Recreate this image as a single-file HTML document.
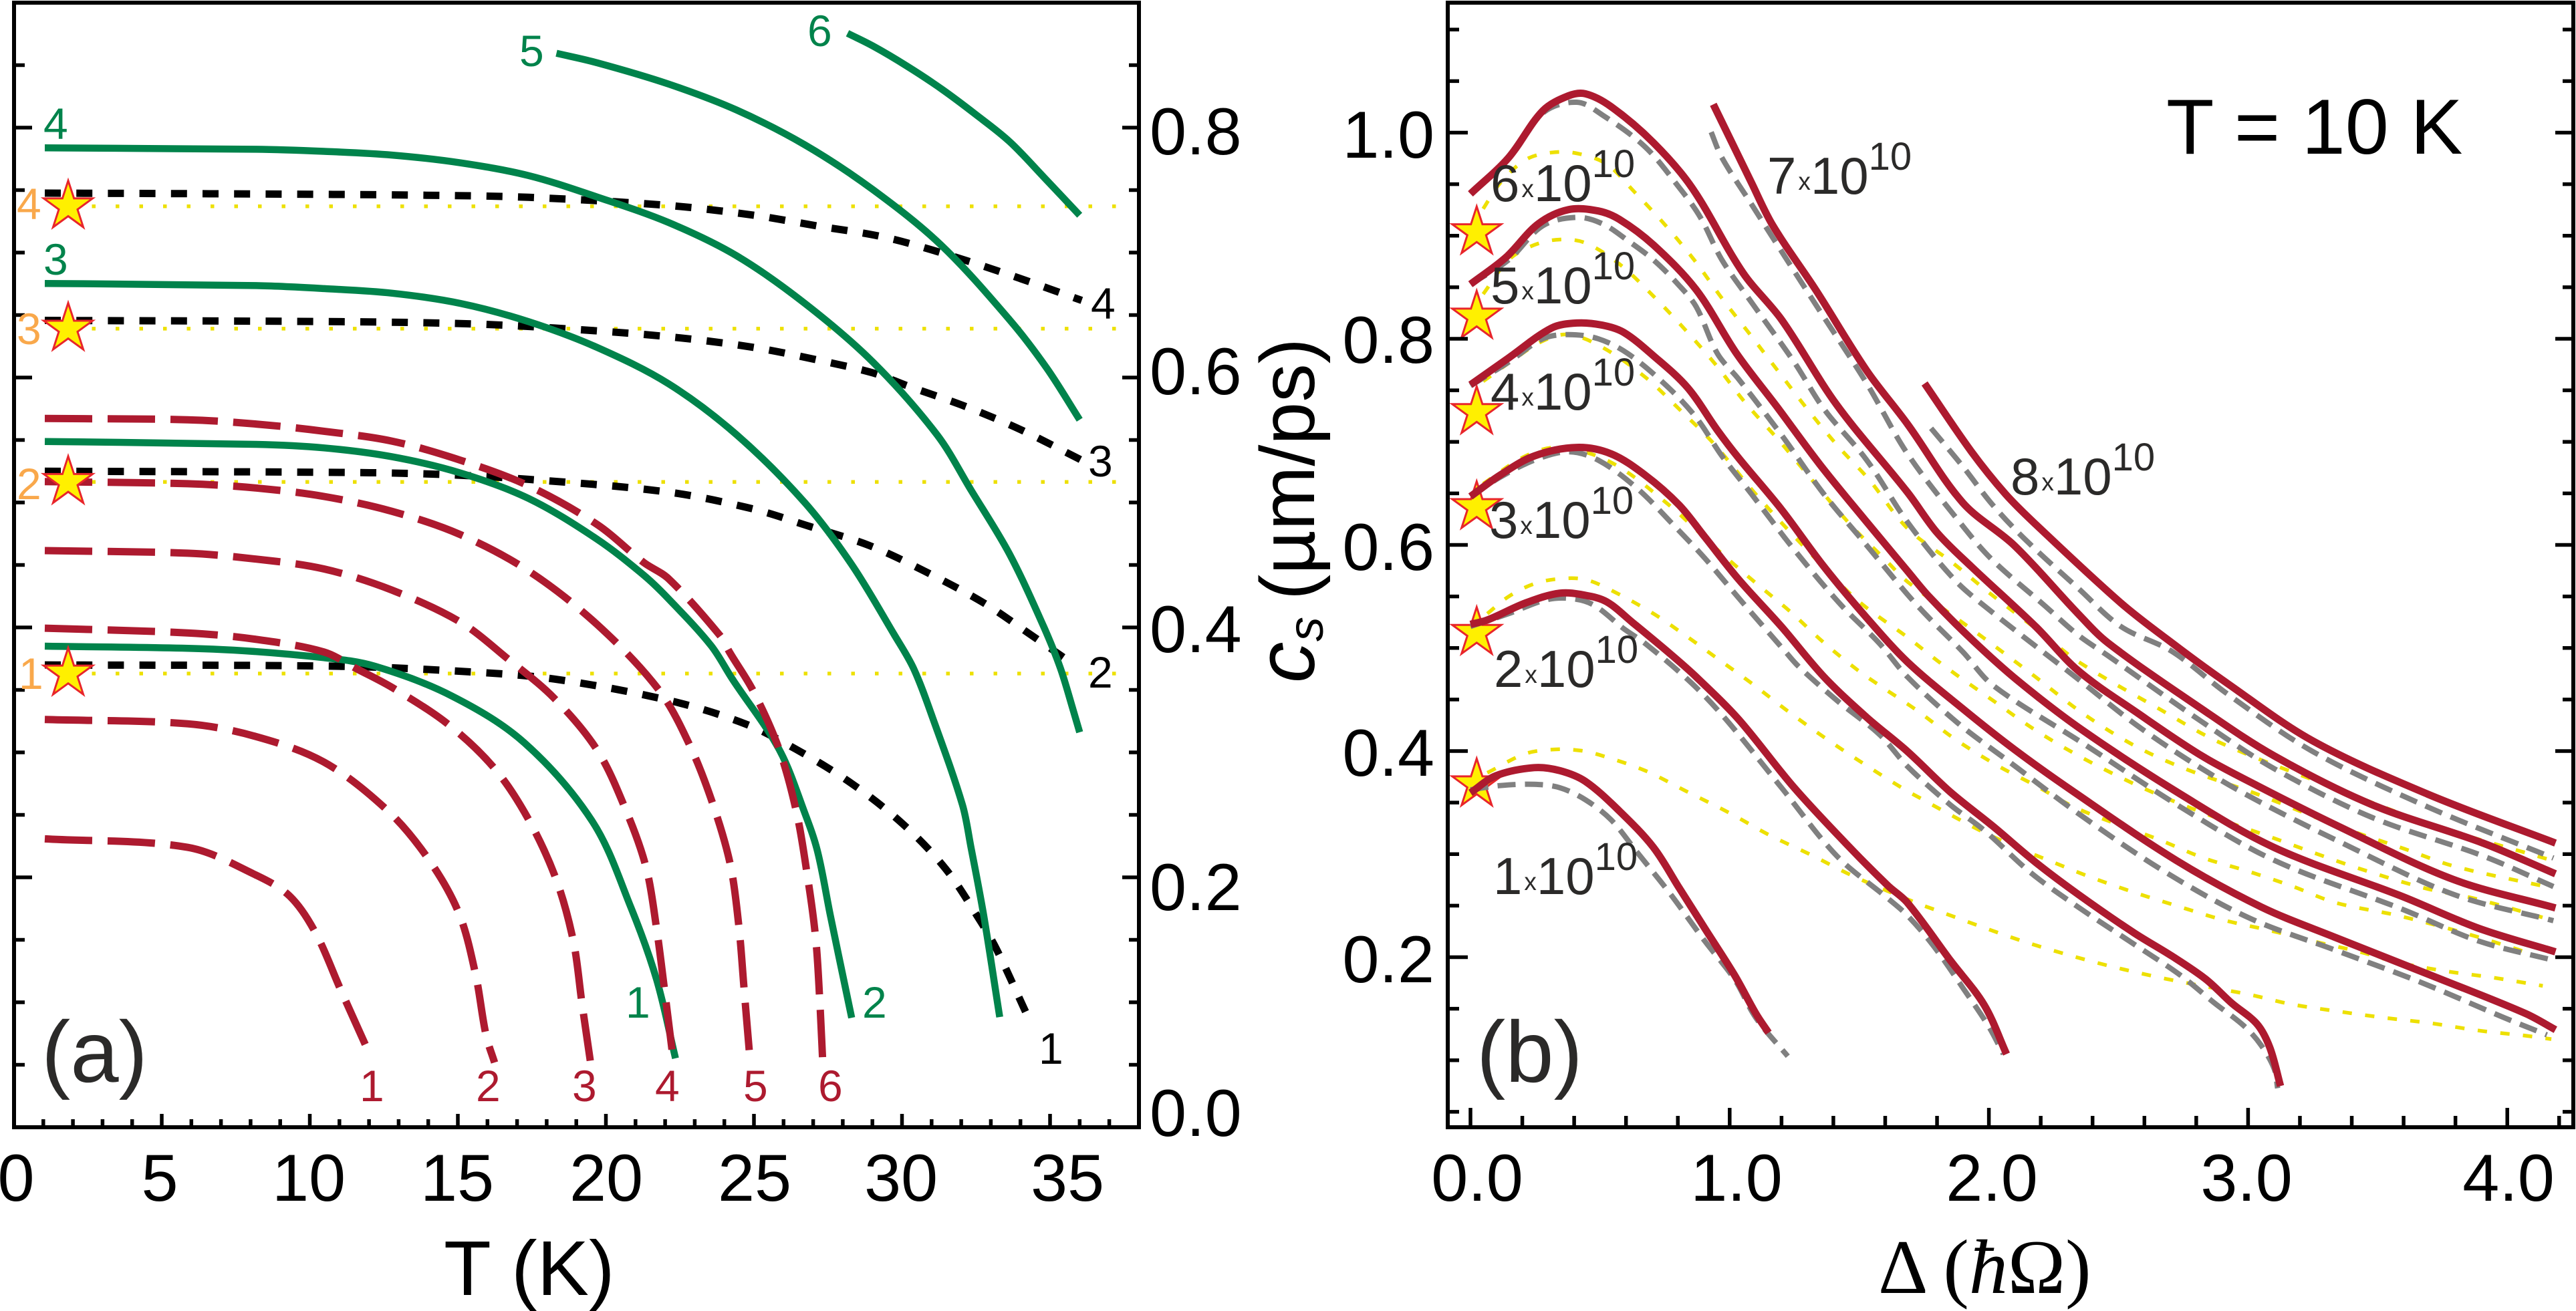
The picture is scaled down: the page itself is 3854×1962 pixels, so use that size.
<!DOCTYPE html>
<html lang="en">
<head>
<meta charset="utf-8">
<title>Sound velocity chart</title>
<style>
html,body{margin:0;padding:0;background:#fff;}
svg{display:block;}
text{font-family:"Liberation Sans",sans-serif;}
.serif{font-family:"Liberation Serif",serif;}
.tk{font-size:99px;fill:#000;}
.lb{font-size:66px;}
.cnt{fill:#2b2a29;font-size:78px;}
</style>
</head>
<body>
<svg xmlns="http://www.w3.org/2000/svg" width="3854" height="1962" viewBox="0 0 3854 1962">
<rect width="3854" height="1962" fill="#fff"/>
<g id="marksA"></g>
<g id="marksB"></g>
<g id="axesG"></g>

<g class="tk" text-anchor="middle">
<text class="tk" x="24" y="1797">0</text>
<text class="tk" x="239" y="1797">5</text>
<text class="tk" x="462" y="1797">10</text>
<text class="tk" x="684" y="1797">15</text>
<text class="tk" x="907" y="1797">20</text>
<text class="tk" x="1129" y="1797">25</text>
<text class="tk" x="1348" y="1797">30</text>
<text class="tk" x="1597" y="1797">35</text>
</g>
<g>
<text class="tk" x="1720" y="231">0.8</text>
<text class="tk" x="1720" y="590">0.6</text>
<text class="tk" x="1720" y="976">0.4</text>
<text class="tk" x="1720" y="1362">0.2</text>
<text class="tk" x="1720" y="1700">0.0</text>
</g>
<text x="664" y="1938" font-size="116">T (K)</text>
<text x="62" y="1619" font-size="130" fill="#2b2a29">(a)</text>

<g fill="#00834b">
<text class="lb" x="65" y="208">4</text>
<text class="lb" x="65" y="411">3</text>
<text class="lb" x="777" y="99">5</text>
<text class="lb" x="1208" y="69">6</text>
<text class="lb" x="936" y="1523">1</text>
<text class="lb" x="1290" y="1523">2</text>
</g>
<g fill="#ad1a2f">
<text class="lb" x="538" y="1648">1</text>
<text class="lb" x="712" y="1648">2</text>
<text class="lb" x="856" y="1648">3</text>
<text class="lb" x="980" y="1648">4</text>
<text class="lb" x="1112" y="1648">5</text>
<text class="lb" x="1224" y="1648">6</text>
</g>
<g fill="#000">
<text class="lb" x="1632" y="477">4</text>
<text class="lb" x="1628" y="713">3</text>
<text class="lb" x="1628" y="1029">2</text>
<text class="lb" x="1554" y="1592">1</text>
</g>
<g fill="#f9a84b">
<text class="lb" x="25" y="328">4</text>
<text class="lb" x="25" y="515">3</text>
<text class="lb" x="25" y="747">2</text>
<text class="lb" x="28" y="1031">1</text>
</g>

<g text-anchor="end">
<text class="tk" x="2146" y="236">1.0</text>
<text class="tk" x="2146" y="543">0.8</text>
<text class="tk" x="2146" y="853">0.6</text>
<text class="tk" x="2146" y="1161">0.4</text>
<text class="tk" x="2146" y="1470">0.2</text>
</g>
<g text-anchor="middle">
<text class="tk" x="2210" y="1797" text-anchor="middle">0.0</text>
<text class="tk" x="2598" y="1797" text-anchor="middle">1.0</text>
<text class="tk" x="2980" y="1797" text-anchor="middle">2.0</text>
<text class="tk" x="3361" y="1797" text-anchor="middle">3.0</text>
<text class="tk" x="3753" y="1797" text-anchor="middle">4.0</text>
</g>

<g>
<text transform="translate(1966,1022) rotate(-90)" font-size="123" font-style="italic">c</text>
<text transform="translate(1979,960) rotate(-90)" font-size="74" font-style="italic">s</text>
<text transform="translate(1966,898) rotate(-90)" font-size="115">(µm/ps)</text>
</g>

<text class="serif" x="2810" y="1935" font-size="116">Δ (<tspan font-style="italic">ħ</tspan>Ω)</text>
<text x="3241" y="230" font-size="117">T = 10 K</text>
<text x="2209" y="1619" font-size="130" fill="#2b2a29">(b)</text>

<g>
<text class="cnt" x="2230" y="301">6<tspan font-size="37" dx="3" dy="-6">x</tspan><tspan dy="6">10</tspan><tspan font-size="58" dy="-36">10</tspan></text>
<text class="cnt" x="2230" y="454">5<tspan font-size="37" dx="3" dy="-6">x</tspan><tspan dy="6">10</tspan><tspan font-size="58" dy="-36">10</tspan></text>
<text class="cnt" x="2230" y="613">4<tspan font-size="37" dx="3" dy="-6">x</tspan><tspan dy="6">10</tspan><tspan font-size="58" dy="-36">10</tspan></text>
<text class="cnt" x="2228" y="805">3<tspan font-size="37" dx="3" dy="-6">x</tspan><tspan dy="6">10</tspan><tspan font-size="58" dy="-36">10</tspan></text>
<text class="cnt" x="2235" y="1028">2<tspan font-size="37" dx="3" dy="-6">x</tspan><tspan dy="6">10</tspan><tspan font-size="58" dy="-36">10</tspan></text>
<text class="cnt" x="2234" y="1338">1<tspan font-size="37" dx="3" dy="-6">x</tspan><tspan dy="6">10</tspan><tspan font-size="58" dy="-36">10</tspan></text>
<text class="cnt" x="2644" y="290">7<tspan font-size="37" dx="3" dy="-6">x</tspan><tspan dy="6">10</tspan><tspan font-size="58" dy="-36">10</tspan></text>
<text class="cnt" x="3008" y="740">8<tspan font-size="37" dx="3" dy="-6">x</tspan><tspan dy="6">10</tspan><tspan font-size="58" dy="-36">10</tspan></text>
</g>
</svg>
<script>
/* ---------- Panel (a): T (K) vs cs (um/ps) ---------- */
const greenT1=[1.05,6.74,10.48,12.21,14.8,17.25,19.55,20.84,21.71,22.35];
const greenV1=[.385,.3826,.3758,.3689,.3451,.3076,.2445,.1762,.1183,.0552];
const greenT2=[1.05,8.18,10.48,12.78,15.09,17.39,19.69,21.28,22.11,23.55,24.27,25.85,26.72,27.15,27.58,28.3];
const greenV2=[.5488,.5465,.5437,.5366,.5236,.5032,.4708,.4418,.423,.3855,.3587,.3024,.2513,.2206,.1695,.0876];
const greenT3=[1.05,8.18,10.48,12.78,15.09,17.39,19.69,22.11,24.41,26.72,28.3,29.74,30.39,31.03,32.04,32.33,32.76,33.3];
const greenV3=[.6753,.6736,.6712,.6675,.6593,.6447,.6242,.5951,.5543,.4998,.4504,.3941,.3672,.328,.2581,.224,.1694,.0882];
const greenT4=[1.05,8.18,10.48,12.78,15.09,17.39,19.69,22.11,24.41,26.72,29.02,31.18,32.33,33.63,34.78,35.35,35.79,36];
const greenV4=[.7838,.7827,.781,.778,.7718,.7616,.7446,.7241,.6975,.6593,.6123,.5543,.51,.4588,.4009,.3674,.3331,.3161];
const greenT5=[18.33,19.69,22.11,24.41,26.72,29.02,31.32,33.63,34.9,36];
const greenV5=[.8595,.852,.8349,.8141,.7862,.7503,.706,.6463,.6071,.5662];
const greenT6=[28.16,29.02,30.17,31.32,32.48,33.63,34.78,36];
const greenV6=[.8755,.8653,.8492,.8312,.8107,.7889,.7606,.7299];

const redT1=[1.05,5.87,8.18,9.33,10.19,11.05,11.92];
const redV1=[.2308,.224,.2018,.1848,.1558,.1097,.0637];
const redT2=[1.05,5.87,8.18,10.48,12.57,13.93,15.01,15.59,15.95,16.24];
const redV2=[.3263,.3229,.3127,.2922,.2547,.2172,.1728,.1234,.0739,.0518];
const redT3=[1.05,5.87,8.18,10.48,11.56,12.78,14.65,16.24,17.39,18.32,18.9,19.19,19.48];
const redV3=[.3994,.3956,.3905,.3803,.3672,.3519,.3229,.2871,.2462,.1984,.149,.0995,.0518];
const redT4=[1.05,5.87,8.18,10.48,12.78,15.09,16.67,18.25,19.69,20.63,21.35,21.71,21.99,22.25];
const redV4=[.4615,.4594,.4547,.4468,.4298,.4042,.3752,.3434,.3024,.2564,.2086,.1592,.108,.0586];
const redT5=[1.05,5.87,8.18,10.48,12.78,15.09,17.39,19.69,21.78,22.83,23.62,24.2,24.49,24.67,24.85];
const redV5=[.5167,.515,.5116,.5048,.4929,.4742,.4452,.4026,.3502,.3058,.2581,.2103,.1609,.1097,.0586];
const redT6=[1.05,5.87,8.18,10.48,12.78,15.09,17.39,19.69,21.28,22.11,23.84,24.2,24.99,25.85,26.43,26.79,27.08,27.22,27.32];
const redV6=[.5672,.5662,.5628,.557,.5491,.5338,.5133,.4826,.4519,.4391,.3939,.3792,.3485,.3024,.253,.2035,.1524,.1029,.0535];

const blackT1=[1.05,11.05,15.37,18.25,22.11,24.7,26.43,28.3,30.03,31.47,32.62,33.2,34.2];
const blackV1=[.37,.3689,.3645,.3587,.3417,.3229,.3024,.2751,.2427,.2069,.166,.1421,.091];
const blackT2=[1.05,9.62,13.93,17.39,22.11,24.99,26.86,28.88,30.75,32.76,34.35,35.5];
const blackV2=[.525,.5243,.5229,.5185,.5083,.4947,.481,.4657,.4452,.4196,.3941,.3753];
const blackT3=[1.05,11.05,15.37,18.25,22.11,24.99,27.15,29.02,30.17,32.19,34.06,36.07];
const blackV3=[.6457,.6447,.643,.6396,.6327,.6241,.614,.6037,.5935,.5764,.5577,.5338];
const blackT4=[1.05,8.18,13.93,17.39,22.11,24.99,27.15,29.31,31.18,33.63,36.07];
const blackV4=[.7476,.7469,.7459,.7442,.7377,.7299,.7213,.7128,.7009,.6822,.6617];

const starTemperature=[1.84,1.84,1.84,1.84];
const starVelocityA=[.3631,.5164,.6391,.737];
const dottedEndTemperature=[37.8];

/* ---------- Panel (b): Delta (hbar Omega) vs cs ---------- */
const bRedD1=[0,.098,.246,.345,.443,.575,.706,.805,.904,1.019,1.101,1.15];
const bRedV1=[.3595,.376,.3839,.381,.3706,.3417,.3065,.2673,.228,.1825,.1453,.1267];
const bRedD2=[0,.065,.213,.345,.443,.525,.624,.772,.871,1.035,1.249,1.463,1.611,1.686,1.851,1.982,2.068];
const bRedV2=[.523,.5271,.5437,.5532,.5511,.5449,.525,.494,.4719,.4306,.3644,.3065,.2693,.2528,.197,.1536,.106];
const bRedD3=[0,.114,.246,.41,.542,.674,.805,.904,1.035,1.199,1.364,1.529,1.686,1.851,2.015,2.18,2.344,2.558,2.706,2.838,2.936,3.035,3.084,3.125];
const bRedV3=[.647,.6677,.6863,.6946,.6884,.6677,.6387,.6077,.5664,.5209,.4719,.4326,.3996,.3603,.3272,.2921,.2611,.2239,.2011,.1784,.1556,.135,.1122,.075];
const bRedD4=[0,.147,.312,.41,.509,.591,.706,.838,.953,1.035,1.199,1.364,1.529,1.686,1.9,2.098,2.328,2.722,3.051,3.331,3.726,4.071,4.186];
const bRedV4=[.7553,.7814,.8103,.8153,.8132,.8062,.7835,.7525,.7111,.6842,.6346,.5788,.5292,.4864,.4409,.4016,.3603,.2941,.2487,.2197,.1804,.1453,.1296];
const bRedD5=[0,.135,.262,.378,.493,.575,.706,.871,1.027,1.183,1.348,1.529,1.686,1.769,1.933,2.114,2.361,2.739,3.1,3.594,3.89,4.186];
const bRedV5=[.8529,.8786,.9116,.9253,.924,.9158,.891,.8475,.7855,.7338,.678,.6222,.5747,.5499,.5085,.4678,.4202,.3582,.3065,.259,.228,.2052];
const bRedD6=[0,.147,.279,.378,.443,.542,.706,.854,1.051,1.2,1.413,1.686,1.8,1.933,2.18,2.344,2.574,2.821,3.035,3.347,3.791,4.186];
const bRedV6=[.9406,.9757,1.0212,1.0357,1.0377,1.0253,.9902,.9468,.8641,.8186,.7359,.6511,.6119,.5788,.5209,.4781,.4368,.3954,.3665,.3272,.2755,.2478];
const bRedD7=[.9367,1.085,1.167,1.332,1.529,1.686,1.9,2.098,2.344,2.459,2.821,3.1,3.479,3.906,4.186];
const bRedV7=[1.0274,.9509,.9096,.8475,.769,.7173,.6408,.5995,.5333,.505,.4409,.3954,.3479,.3107,.2809];
const bRedD8=[1.752,1.933,2.065,2.18,2.509,2.706,2.92,3.249,3.693,4.186];
const bRedV8=[.7566,.6904,.6491,.6201,.5437,.505,.4657,.4099,.3582,.3107];

const bGrayD1=[0,.114,.246,.345,.443,.542,.641,.772,.904,1.019,1.101,1.224];
const bGrayV1=[.3624,.3665,.3677,.3644,.3528,.3334,.3024,.2611,.2156,.1784,.1412,.1039];
const bGrayD2=[0,.147,.295,.394,.476,.591,.674,.854,.986,1.2,1.413,1.611,1.686,1.785,1.9,1.999,2.056];
const bGrayV2=[.5209,.5333,.5469,.5478,.5416,.5188,.5044,.4657,.4306,.3644,.2983,.2569,.2404,.2114,.1701,.1329,.106];
const bGrayD3=[0,.114,.246,.378,.493,.641,.788,.904,1.051,1.216,1.265,1.413,1.578,1.686,1.851,1.982,2.163,2.344,2.542,2.739,2.87,2.986,3.051,3.101,3.114];
const bGrayV3=[.647,.6656,.6822,.6904,.6822,.6553,.6181,.5871,.5437,.4961,.4823,.4492,.4161,.3851,.3479,.3231,.2817,.2487,.2156,.1825,.1556,.1329,.1143,.0915,.0729];
const bGrayD4=[0,.147,.279,.378,.493,.608,.756,.871,.97,1.085,1.249,1.43,1.578,1.686,1.884,2.081,2.344,2.673,3.002,3.331,3.66,3.989,4.153];
const bGrayV4=[.7545,.7773,.8,.8041,.8,.7855,.7545,.7235,.6863,.6491,.5953,.5416,.5044,.4719,.4264,.3892,.3396,.2838,.2383,.2073,.1763,.1412,.1246];
const bGrayD5=[0,.147,.279,.41,.509,.608,.706,.805,.871,.953,1.035,1.199,1.364,1.529,1.686,1.769,1.9,2.016,2.361,2.739,3.1,3.594,3.89,4.178];
const bGrayV5=[.8529,.8765,.9096,.9178,.9116,.8951,.8765,.8517,.831,.7855,.7607,.707,.6491,.5995,.5519,.5292,.4961,.4637,.4078,.3458,.2941,.2466,.2156,.197];
const bGrayD6=[0,.164,.279,.41,.509,.674,.805,.887,.97,1.085,1.249,1.364,1.529,1.686,1.867,1.999,2.344,2.574,2.821,3.035,3.347,3.791,4.178];
const bGrayV6=[.9406,.9799,1.0191,1.0295,1.0171,.9861,.9468,.9178,.8765,.8351,.7773,.7318,.6822,.6222,.5664,.5375,.4699,.4244,.383,.352,.3127,.2611,.2354];
const bGrayD7=[.9285,.97,1.085,1.2,1.348,1.529,1.686,1.9,2.015,2.213,2.344,2.459,2.821,3.1,3.479,3.906,4.178];
const bGrayV7=[1.0005,.9757,.9302,.8848,.8269,.7566,.6884,.6181,.585,.5416,.5126,.4926,.4285,.383,.3355,.2983,.2685];
const bGrayD8=[1.777,1.9,2.015,2.147,2.344,2.509,2.706,2.92,3.249,3.693,4.178];
const bGrayV8=[.7132,.676,.6387,.6036,.5581,.5209,.4967,.4554,.3996,.3458,.2962];

const bYellowD1=[.065,.213,.328,.427,.509,.674,.838,1.002,1.15,1.315,1.479,1.719,1.8,1.966,2.13,2.311,2.476,2.657,2.821,3.002,3.166,3.347,3.528,3.709,3.89,4.071,4.17];
const bYellowV1=[.3789,.3975,.4016,.4004,.3954,.381,.3603,.3396,.3189,.2991,.2784,.2528,.2453,.23,.2156,.2019,.1908,.1804,.1722,.1639,.1544,.1474,.1412,.1358,.1288,.1238,.1205];
const bYellowD2=[.065,.147,.246,.345,.443,.542,.706,.838,.937,1.085,1.224,1.372,1.52,1.677,1.752,1.826,1.982,2.147,2.229,2.393,2.558,2.739,2.903,3.084,3.249,3.43,3.578,3.758,3.939,4.137];
const bYellowV2=[.5333,.5499,.5623,.5672,.5664,.5561,.5333,.5106,.4926,.4657,.4388,.412,.3872,.3624,.352,.3417,.321,.3024,.2941,.2776,.2631,.2487,.2362,.2259,.2156,.2052,.1949,.1866,.1804,.1722];
const bYellowD3=[.049,.213,.345,.542,.756,.953,1.085,1.233,1.364,1.496,1.578,1.726,1.867,2.024,2.18,2.328,2.492,2.657,2.829,2.994,3.166,3.339,3.578,3.857,4.17];
const bYellowV3=[.6594,.6863,.6946,.6801,.6408,.5953,.5664,.5354,.505,.4781,.4637,.4388,.412,.3872,.3665,.3458,.3293,.314,.2962,.2838,.2693,.2528,.2404,.2218,.197];
const bYellowD4=[.049,.164,.279,.378,.509,.674,.805,.937,1.101,1.298,1.496,1.686,1.834,2.015,2.18,2.361,2.574,2.755,2.92,3.084,3.265,3.43,3.676,3.874,4.17];
const bYellowV4=[.7587,.7793,.7979,.8041,.7917,.7628,.7318,.6987,.6491,.5953,.5457,.5104,.4814,.4492,.4202,.3934,.3665,.3471,.3313,.3169,.3003,.2859,.2673,.2569,.2362];
const bYellowD5=[.049,.147,.246,.345,.443,.575,.706,.83,.945,1.06,1.192,1.364,1.479,1.595,1.686,1.999,2.18,2.361,2.558,2.755,3.035,3.347,3.61,3.8,4.17];
const bYellowV5=[.8434,.8765,.891,.8963,.893,.8724,.8413,.8083,.7752,.738,.7008,.6491,.616,.5871,.5643,.5062,.4719,.4368,.4058,.383,.3582,.3272,.3045,.2879,.2673];
const bYellowD6=[.049,.114,.213,.312,.41,.525,.632,.747,.863,.97,1.085,1.192,1.306,1.422,1.537,1.686,1.859,1.999,2.213,2.352,2.657,2.895,3.331,3.726,4.17];
const bYellowV6=[.9261,.9509,.9737,.9807,.9799,.9695,.9426,.9116,.8765,.8393,.8021,.7669,.7297,.6946,.6636,.616,.5829,.554,.5126,.4856,.4409,.4078,.3644,.3272,.2941];

const starDetuning=[.024,.024,.024,.024,.024,.024];
const starVelocityB=[.3677,.5147,.6367,.7289,.8215,.9034];

/* ---------- Tick definitions ---------- */
const aXTickStep=[1];
const aXTickMax=[37];
const aYTickStep=[.05];
const aYTickMax=[.85];
const bXTickStep=[.2];
const bXTickMax=[4.2];
const bYTickStep=[.05];
const bYTickMax=[1.1];

/* ---------- Axis functions ---------- */
const xA=t=>20.5+44.3*t;
const yA=v=>1687-1870*v;
const xB=d=>2200+387.8*d;
const yB=v=>1741-1542.5*v;

const NS='http://www.w3.org/2000/svg';
const marksA=document.getElementById('marksA');
const marksB=document.getElementById('marksB');
const axesG=document.getElementById('axesG');

function smoothPath(pts){
  const n=pts.length;
  const tan=pts.map((p,i)=>{
    const a=pts[Math.max(i-1,0)];
    const b=pts[Math.min(i+1,n-1)];
    const dx=b[0]-a[0];
    const dy=b[1]-a[1];
    const len=Math.hypot(dx,dy)||1;
    return [dx/len,dy/len];
  });
  let d='M'+pts[0][0].toFixed(1)+' '+pts[0][1].toFixed(1);
  for(let i=0;i<n-1;i++){
    const p=pts[i];
    const q=pts[i+1];
    const h=Math.hypot(q[0]-p[0],q[1]-p[1])/3;
    d+=' C'+(p[0]+tan[i][0]*h).toFixed(1)+' '+(p[1]+tan[i][1]*h).toFixed(1)+' '
      +(q[0]-tan[i+1][0]*h).toFixed(1)+' '+(q[1]-tan[i+1][1]*h).toFixed(1)+' '
      +q[0].toFixed(1)+' '+q[1].toFixed(1);
  }
  return d;
}
function curve(parent,xs,ys,sx,sy,color,width,dash,name){
  const el=document.createElementNS(NS,'path');
  
  
  el.setAttribute('d',smoothPath(xs.map((x,i)=>[sx(x),sy(ys[i])])));
  el.setAttribute('fill','none');
  el.setAttribute('stroke',color);
  el.setAttribute('stroke-width',width);
  el.setAttribute('stroke-linejoin','round');
  if(dash) el.setAttribute('stroke-dasharray',dash);
  parent.appendChild(el);
}
function star(parent,cx,cy,name){
  const el=document.createElementNS(NS,'polygon');
  
  
  const pts=[];
  for(let i=0;i<10;i++){
    const r=i%2?14.7:38.5;
    const a=-Math.PI/2+i*Math.PI/5;
    pts.push((cx+r*Math.cos(a)).toFixed(1)+','+(cy+r*Math.sin(a)).toFixed(1));
  }
  el.setAttribute('points',pts.join(' '));
  el.setAttribute('fill','#fff000');
  el.setAttribute('stroke','#e8252b');
  el.setAttribute('stroke-width','3');
  parent.appendChild(el);
}
function seg(x1,y1,x2,y2,w,name){
  const el=document.createElementNS(NS,'line');
  
  
  el.setAttribute('x1',x1);
  el.setAttribute('y1',y1);
  el.setAttribute('x2',x2);
  el.setAttribute('y2',y2);
  el.setAttribute('stroke','#000');
  el.setAttribute('stroke-width',w);
  axesG.appendChild(el);
}
function frame(l,t,r,b,name){
  const el=document.createElementNS(NS,'rect');
  
  
  el.setAttribute('x',l);
  el.setAttribute('y',t);
  el.setAttribute('width',r-l);
  el.setAttribute('height',b-t);
  el.setAttribute('fill','none');
  el.setAttribute('stroke','#000');
  el.setAttribute('stroke-width','6');
  axesG.appendChild(el);
}

/* ---------- Panel (a) marks ---------- */
const YEL='#ede000',RED='#ad1a2f',GRN='#00834b',GRY='#808080';
starVelocityA.forEach((v,i)=>{
  curve(marksA,[starTemperature[i],dottedEndTemperature[0]],[v,v],xA,yA,YEL,5.5,'5.5 30','dotted-reference-'+(i+1));
});
[[blackT1,blackV1],[blackT2,blackV2],[blackT3,blackV3],[blackT4,blackV4]].forEach((s,i)=>{
  curve(marksA,s[0],s[1],xA,yA,'#000',11,'24 23.2','black-dashed-curve-'+(i+1));
});
[[greenT1,greenV1],[greenT2,greenV2],[greenT3,greenV3],[greenT4,greenV4],[greenT5,greenV5],[greenT6,greenV6]].forEach((s,i)=>{
  curve(marksA,s[0],s[1],xA,yA,GRN,10.5,null,'green-curve-'+(i+1));
});
[[redT1,redV1],[redT2,redV2],[redT3,redV3],[redT4,redV4],[redT5,redV5],[redT6,redV6]].forEach((s,i)=>{
  curve(marksA,s[0],s[1],xA,yA,RED,11,'71 23','red-dashed-curve-'+(i+1));
});
starVelocityA.forEach((v,i)=>{
  star(marksA,xA(starTemperature[i]),yA(v),'panel-a-star-'+(i+1));
});

/* ---------- Panel (b) marks ---------- */
[[bYellowD1,bYellowV1],[bYellowD2,bYellowV2],[bYellowD3,bYellowV3],[bYellowD4,bYellowV4],[bYellowD5,bYellowV5],[bYellowD6,bYellowV6]].forEach((s,i)=>{
  curve(marksB,s[0],s[1],xB,yB,YEL,5.5,'14 20','yellow-dotted-curve-'+(i+1));
});
starVelocityB.forEach((v,i)=>{
  star(marksB,xB(starDetuning[i]),yB(v),'panel-b-star-'+(i+1));
});
[[bGrayD1,bGrayV1],[bGrayD2,bGrayV2],[bGrayD3,bGrayV3],[bGrayD4,bGrayV4],[bGrayD5,bGrayV5],[bGrayD6,bGrayV6],[bGrayD7,bGrayV7],[bGrayD8,bGrayV8]].forEach((s,i)=>{
  curve(marksB,s[0],s[1],xB,yB,GRY,8,'27 14','gray-dashed-curve-'+(i+1));
});
[[bRedD1,bRedV1],[bRedD2,bRedV2],[bRedD3,bRedV3],[bRedD4,bRedV4],[bRedD5,bRedV5],[bRedD6,bRedV6],[bRedD7,bRedV7],[bRedD8,bRedV8]].forEach((s,i)=>{
  curve(marksB,s[0],s[1],xB,yB,RED,11,null,'red-curve-'+(i+1));
});

/* ---------- Axes ---------- */
frame(21,4,1704,1687,'panel-a-frame');
frame(2166,4,3850,1687,'panel-b-frame');
for(let k=1;k*aXTickStep[0]<=aXTickMax[0];k++){
  const major=k%5===0;
  const x=xA(k*aXTickStep[0]);
  seg(x,1687,x,1687-(major?20:12),5.5,'panel-a-x-tick');
}
for(let k=1;k*aYTickStep[0]<=aYTickMax[0]+1e-9;k++){
  const major=k%4===0;
  const y=yA(k*aYTickStep[0]);
  seg(21,y,21+(major?27:16),y,5.5,'panel-a-left-tick');
  seg(1704,y,1704-(major?25:15),y,5.5,'panel-a-right-tick');
}
for(let k=0;k*bXTickStep[0]<=bXTickMax[0]+1e-9;k++){
  const major=k%5===0;
  const x=xB(k*bXTickStep[0]);
  seg(x,1687,x,1687-(major?29:17),5.5,'panel-b-x-tick');
}
for(let k=1;k*bYTickStep[0]<=bYTickMax[0]+1e-9;k++){
  const major=k%4===0;
  const y=yB(k*bYTickStep[0]);
  seg(2166,y,2166+(major?30:17),y,5.5,'panel-b-left-tick');
  seg(3850,y,3850-(major?27:16),y,5.5,'panel-b-right-tick');
}
</script>
</body>
</html>
